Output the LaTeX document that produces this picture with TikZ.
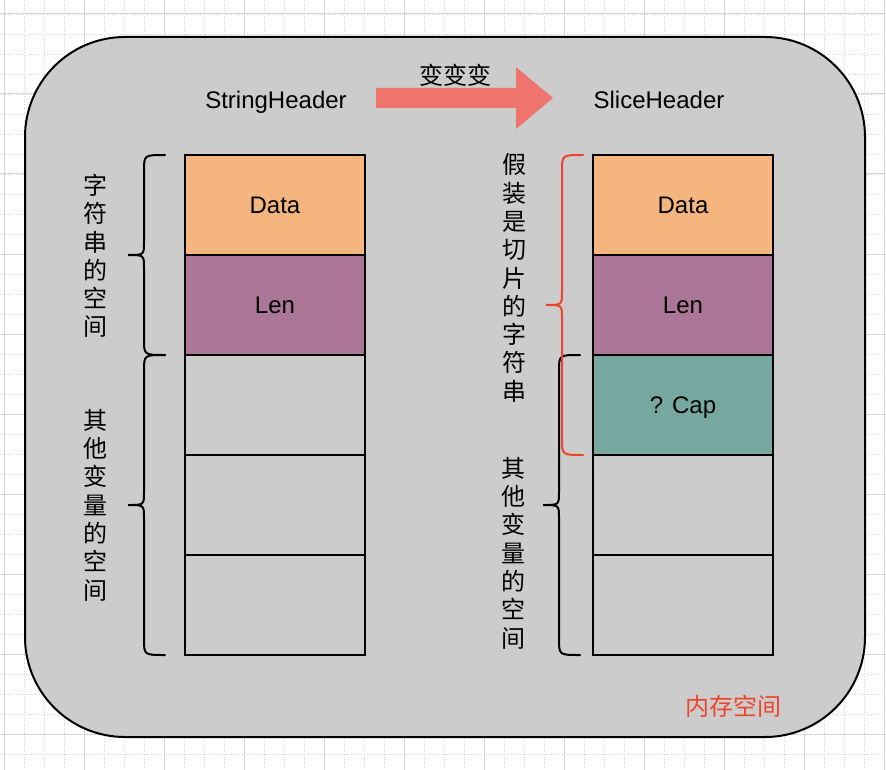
\documentclass[tikz,border=0pt]{standalone}
\usepackage{fontspec}
\setmainfont{Liberation Sans}
\newfontfamily\cjk{Noto Sans CJK SC}
\usetikzlibrary{positioning}

\definecolor{datafill}{RGB}{244,182,126}
\definecolor{lenfill}{RGB}{172,118,153}
\definecolor{capfill}{RGB}{118,168,159}
\definecolor{memfill}{RGB}{204,204,204}
\definecolor{arrowfill}{RGB}{240,116,110}
\definecolor{memred}{RGB}{238,68,42}
\definecolor{gridline}{RGB}{214,214,214}

\tikzset{
    cell/.style={draw=black, line width=2pt, minimum width=180pt, minimum height=100pt,
        inner sep=0pt, text height=17pt, text depth=0pt, font=\fontsize{24}{28}\selectfont},
    label/.style={inner sep=0pt, text height=17pt, text depth=0pt, font=\fontsize{24}{28}\selectfont},
    vtext/.style={inner sep=0pt, align=center, font=\fontsize{24}{28.3}\selectfont\cjk},
    bracket/.style={line width=2pt, line cap=round}
}

% curly bracket: colour, x of the ends, top y, bottom y
\newcommand\curlybrace[4]{
    \pgfmathsetmacro\bxb{#2-21}
    \pgfmathsetmacro\bxt{#2-37}
    \pgfmathsetmacro\bym{(#3+#4)/2}
    \draw[bracket, #1] (#2,#3) .. controls (\bxb,#3) .. (\bxb,{#3+16})
        -- (\bxb,{\bym-13}) .. controls (\bxb,\bym) .. (\bxt,\bym)
        .. controls (\bxb,\bym) .. (\bxb,{\bym+13})
        -- (\bxb,{#4-16}) .. controls (\bxb,#4) .. (#2,#4);
}

\begin{document}
\begin{tikzpicture}[x=1pt, y=-1pt]
    \useasboundingbox (0,0) rectangle (886,770);
    % grid paper
    \fill[white] (0,0) rectangle (886,770);
    \foreach \x in {4,24,...,884}
        \draw[gridline, line width=0.6pt, dotted] (\x,0) -- (\x,770);
    \foreach \y in {14,34,...,770}
        \draw[gridline, line width=0.6pt, dotted] (0,\y) -- (886,\y);
    \foreach \x in {4,84,...,884}
        \draw[gridline, line width=1pt] (\x,0) -- (\x,770);
    \foreach \y in {14,94,...,770}
        \draw[gridline, line width=1pt] (0,\y) -- (886,\y);

    % memory area
    \draw[fill=memfill, line width=2pt, rounded corners=100pt] (25,37) rectangle (865,737);

    % headers and arrow
    \node[label] (strHead) at (276,100) {StringHeader};
    \node[label] (sliceHead) at (659,100) {SliceHeader};
    \fill[arrowfill] (376,88) -- (516,88) -- (516,67) -- (553,98) -- (516,129) -- (516,108) -- (376,108) -- cycle;
    \node[label, font=\fontsize{24}{28}\selectfont\cjk] (change) at (455,76) {变变变};

    % string header column
    \node[cell, fill=datafill] (sData) at (275,205) {Data};
    \node[cell, fill=lenfill] (sLen) at (275,305) {Len};
    \foreach \y in {405,505,605}
        \node[cell] at (275,\y) {};

    % slice header column
    \node[cell, fill=datafill] (tData) at (683,205) {Data};
    \node[cell, fill=lenfill] (tLen) at (683,305) {Len};
    \node[cell, fill=capfill] (tCap) at (683,405) {? Cap};
    \foreach \y in {505,605}
        \node[cell] at (683,\y) {};

    % brackets
    \curlybrace{black}{165}{155}{355}
    \curlybrace{black}{165}{355}{655}
    \curlybrace{black}{580}{355}{655}
    \curlybrace{memred}{583}{155}{455}

    % side labels
    \node[vtext] (strSpace) at (95,256) {字\\符\\串\\的\\空\\间};
    \node[vtext] (otherL) at (95,505) {其\\他\\变\\量\\的\\空\\间};
    \node[vtext] (fakeSlice) at (514,278) {假\\装\\是\\切\\片\\的\\字\\符\\串};
    \node[vtext] (otherR) at (513,553) {其\\他\\变\\量\\的\\空\\间};
    \node[label, text=memred, font=\fontsize{24}{28}\selectfont\cjk] (mem) at (733,707) {内存空间};
\end{tikzpicture}
\end{document}
